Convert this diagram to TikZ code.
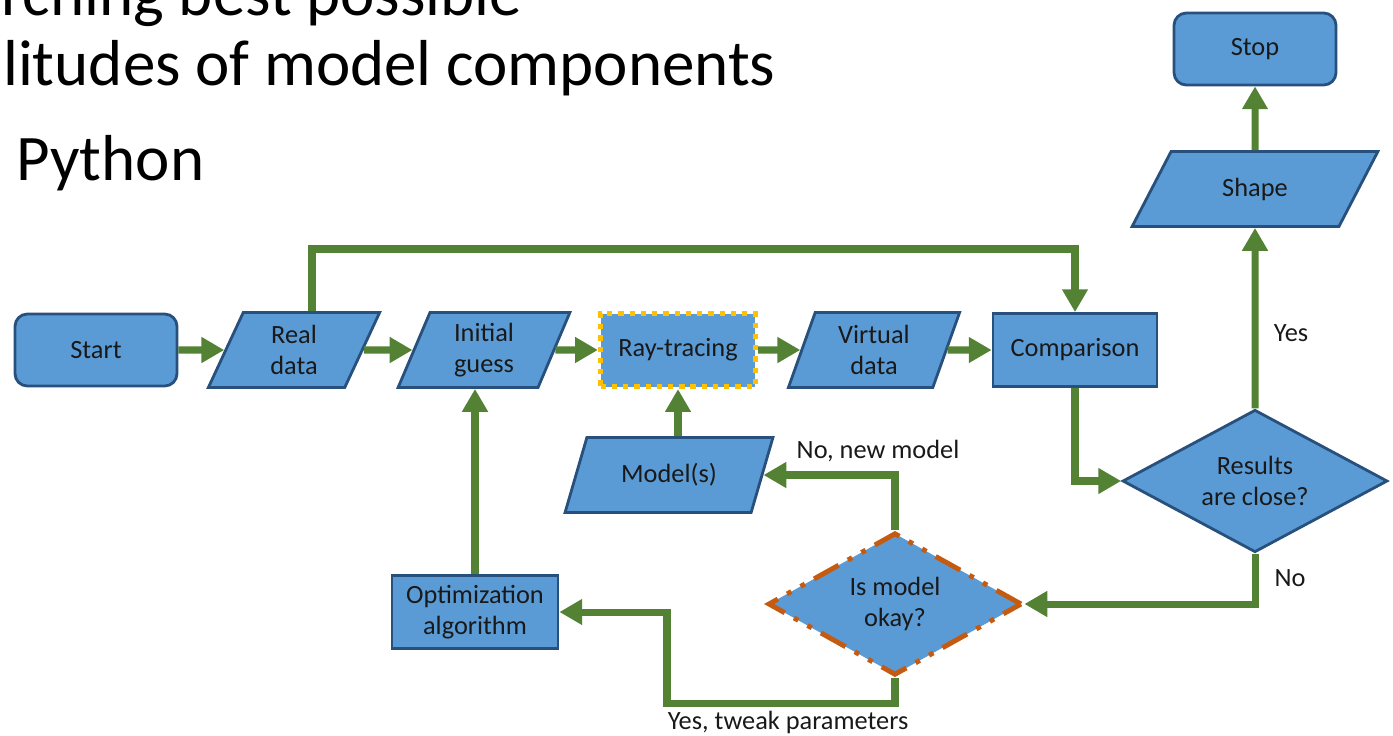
\documentclass[tikz,border=0pt]{standalone}
\usepackage{fontspec}
\setmainfont{Carlito}
\usetikzlibrary{arrows.meta,shapes.geometric,positioning,calc}
\definecolor{boxblue}{RGB}{91,155,213}
\definecolor{boxedge}{RGB}{40,80,125}
\definecolor{flowgreen}{RGB}{84,130,53}
\definecolor{checkorange}{RGB}{197,90,17}
\definecolor{traceyellow}{RGB}{255,192,0}

\begin{document}
\begin{tikzpicture}[
  x=0.02cm, y=-0.02cm,
  every node/.style={font=\fontsize{15}{18}\selectfont, text=black!90},
  box options/.style={draw=boxedge, line width=1.6pt, fill=boxblue, align=center, inner sep=0pt},
  terminal options/.style={box options, rectangle, rounded corners=7pt, minimum width=3.24cm, minimum height=1.44cm},
  process options/.style={box options, rectangle, minimum height=1.46cm},
  data options/.style={box options, trapezium, trapezium left angle=#1, trapezium right angle={180-#1}, trapezium stretches=true, minimum height=1.5cm},
  decision options/.style={box options, diamond, aspect=1.86, minimum width=5.3cm, minimum height=2.85cm},
  flow options/.style={draw=flowgreen, line width=4pt, -{Triangle[length=13pt,width=14pt]}},
  title options/.style={anchor=base west, font=\fontsize{37}{44}\selectfont, text=black},
  ]
  \clip (0,0) rectangle (1393,735);

  % slide text behind the chart
  \node[title options] (searchline) at (-5,15) {rching best possible};
  \node[title options] (ampline) at (-3,85) {litudes of model components};
  \node[title options] (pyline) at (10,180) {Python};

  % main row
  \node[terminal options] (start) at (96,350) {Start};
  \node[data options=72, minimum width=3.44cm] (real) at (294,350) {Real\\data};
  \node[data options=72, minimum width=3.44cm] (init) at (484,350) {Initial\\guess};
  \node[process options, minimum width=3.1cm, draw=traceyellow, line width=3pt,
    dash pattern=on 3pt off 3.4pt] (ray) at (678,350) {Ray-tracing};
  \node[data options=72, minimum width=3.44cm] (virt) at (874,350) {Virtual\\data};
  \node[process options, minimum width=3.28cm] (comp) at (1075,350) {Comparison};

  % right column
  \node[decision options] (close) at (1255,481) {Results\\are close?};
  \node[data options=56, minimum width=4.92cm] (shape) at (1255,189) {Shape};
  \node[terminal options] (stop) at (1255,49) {Stop};

  % lower loop
  \node[data options=61, minimum width=4.16cm] (model) at (669,475) {Model(s)};
  \node[decision options, minimum width=5.08cm, draw=checkorange, line width=2.8pt,
    dash pattern=on 16pt off 6pt on 2.8pt off 6pt on 2.8pt off 6pt] (okay) at (895,604) {Is model\\okay?};
  \node[process options, minimum width=3.32cm] (optim) at (475,612) {Optimization\\algorithm};

  \node (yes) at (1291,333) {Yes};
  \node (no) at (1290,578) {No};
  \node (newmodel) at (878,451) {No, new model};
  \node (tweak) at (788,722) {Yes, tweak parameters};

  \coordinate (overtop) at (0,249);
  \coordinate (yesturn) at (667,703);

  \foreach \from/\to in {start/real, real/init, init/ray, ray/virt, virt/comp} {
    \draw[flow options] (\from.east) -- (\to.west);
  }
  \draw[flow options] ([xshift=0.36cm]real.north) |- (overtop -| comp.north) -- (comp.north);
  \draw[flow options] (comp.south) |- (close.west);
  \draw[flow options] (close.north) -- (shape.south);
  \draw[flow options] (shape.north) -- (stop.south);
  \draw[flow options] (close.south) |- (okay.east);
  \draw[flow options] (okay.north) |- (model.east);
  \draw[flow options] (model.north -| ray.south) -- (ray.south);
  \draw[flow options] (okay.south) |- (yesturn) |- (optim.east);
  \draw[flow options] (optim.north) -- (optim.north |- init.south);
\end{tikzpicture}
\end{document}
